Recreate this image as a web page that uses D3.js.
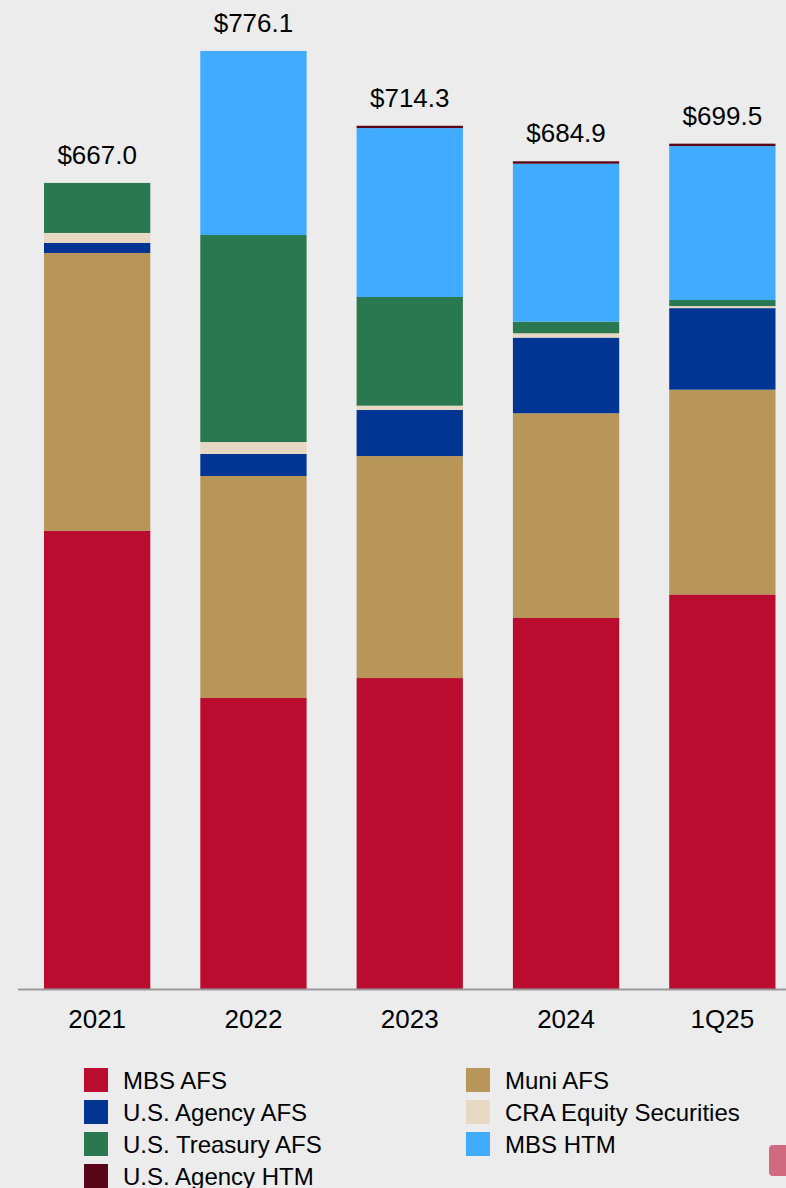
<!DOCTYPE html>
<html>
<head>
<meta charset="utf-8">
<script src="https://cdn.jsdelivr.net/npm/d3@7"></script>
<style>
  html, body { margin: 0; padding: 0; background: #ececec; }
  svg { display: block; font-family: "Liberation Sans", Arial, sans-serif; }
</style>
</head>
<body>
<svg id="chart" width="786" height="1188"></svg>
<script>
// ---- data ----
const categories = ["2021", "2022", "2023", "2024", "1Q25"];
const totalLabels = ["$667.0", "$776.1", "$714.3", "$684.9", "$699.5"];
const seriesNames = ["MBS AFS", "Muni AFS", "U.S. Agency AFS", "CRA Equity Securities", "U.S. Treasury AFS", "MBS HTM", "U.S. Agency HTM"];
const mbsAfs       = [379.0, 240.8, 257.3, 307.0, 326.5];
const muniAfs      = [230.0, 183.7, 183.7, 169.4, 169.4];
const agencyAfs    = [8.3, 18.2, 38.1, 62.6, 67.5];
const craEquity    = [8.3, 9.9, 3.6, 3.6, 1.7];
const treasuryAfs  = [41.4, 171.3, 89.9, 9.6, 5.0];
const mbsHtm       = [0.0, 152.3, 139.8, 130.7, 127.4];
const agencyHtm    = [0.0, 0.0, 1.9, 2.0, 2.0];
const seriesColors = ["#ba0c2f", "#b8965a", "#003594", "#e6d8c2", "#29784f", "#41abff", "#5a0418"];
// legend order (two columns)
const legendOrder = ["MBS AFS", "U.S. Agency AFS", "U.S. Treasury AFS", "U.S. Agency HTM", "Muni AFS", "CRA Equity Securities", "MBS HTM"];

const seriesValues = [mbsAfs, muniAfs, agencyAfs, craEquity, treasuryAfs, mbsHtm, agencyHtm];
const rows = categories.map((c, i) => {
  const r = { cat: c };
  seriesNames.forEach((s, j) => r[s] = seriesValues[j][i]);
  return r;
});

const svg = d3.select("#chart");
const baseY = 989;
const pxPerUnit = 1.2085;

const x = d3.scaleBand().domain(categories).range([19, 800.5]).paddingInner(0.32).paddingOuter(0.16);
const y = d3.scaleLinear().domain([0, 800]).range([baseY, baseY - 800 * pxPerUnit]);
const color = d3.scaleOrdinal().domain(seriesNames).range(seriesColors);

const stack = d3.stack().keys(seriesNames)(rows);

svg.append("g").selectAll("g")
  .data(stack).join("g")
  .attr("fill", d => color(d.key))
  .selectAll("rect")
  .data(d => d).join("rect")
  .attr("x", d => x(d.data.cat))
  .attr("width", x.bandwidth())
  .attr("y", d => y(d[1]))
  .attr("height", d => Math.max(0, y(d[0]) - y(d[1])));

// axis
const axis = svg.append("g").attr("transform", `translate(0,${baseY})`)
  .call(d3.axisBottom(x).tickSize(0).tickPadding(21));
axis.select(".domain").remove();
axis.append("line").attr("x1", 18).attr("x2", 786).attr("y1", 0.5).attr("y2", 0.5)
  .attr("stroke", "#9a9a9a").attr("stroke-width", 2);
axis.selectAll(".tick text")
  .attr("font-size", 26).attr("fill", "#000")
  .attr("font-family", "'Liberation Sans', Arial, sans-serif");

// totals
const totals = rows.map(r => d3.sum(seriesNames, s => r[s]));
svg.append("g").selectAll("text")
  .data(categories).join("text")
  .attr("x", d => x(d) + x.bandwidth() / 2)
  .attr("y", (d, i) => y(totals[i]) - 19)
  .attr("text-anchor", "middle")
  .attr("font-size", 26)
  .attr("fill", "#000")
  .text((d, i) => totalLabels[i]);

// legend
const legend = svg.append("g");
legendOrder.forEach((name, i) => {
  const col = i < 4 ? 0 : 1;
  const row = i < 4 ? i : i - 4;
  const lx = col === 0 ? 84 : 466;
  const ly = 1068 + row * 32;
  legend.append("rect").attr("x", lx).attr("y", ly).attr("width", 24).attr("height", 24)
    .attr("fill", color(name));
  legend.append("text").attr("x", lx + 39).attr("y", ly + 21)
    .attr("font-size", 24).attr("fill", "#000").text(name);
});

// small decorative tab bottom-right
svg.append("rect").attr("x", 769).attr("y", 1145).attr("width", 30).attr("height", 31)
  .attr("rx", 4).attr("fill", "#d06a80");
</script>
</body>
</html>
